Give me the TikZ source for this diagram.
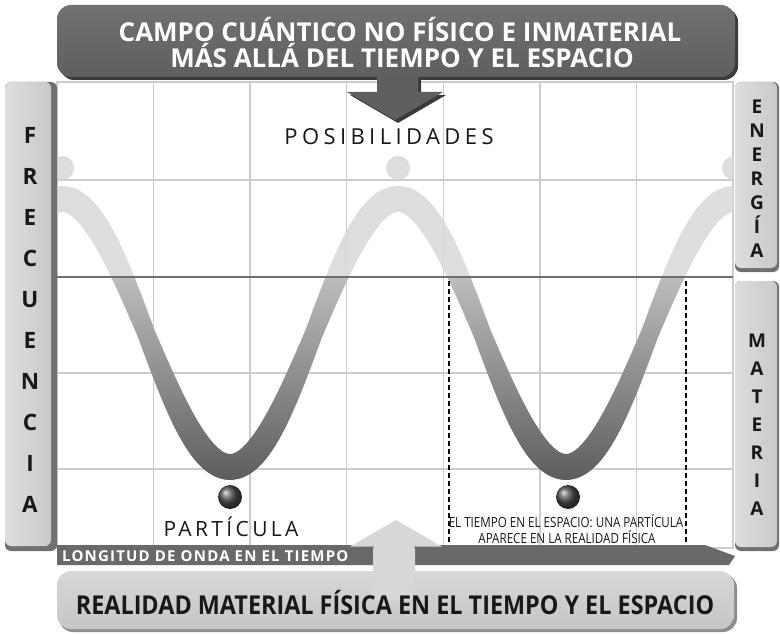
\documentclass[tikz,border=0pt]{standalone}
\usepackage{fontspec}
\setmainfont{Open Sans}
\newfontfamily\spacedfont[LetterSpace=20]{Open Sans}
\newfontfamily\partfont[LetterSpace=16]{Open Sans}
\newfontfamily\condfont[FakeStretch=0.83]{Open Sans}
\newfontfamily\longfont[LetterSpace=8]{Open Sans}
\newfontfamily\realfont[FakeStretch=0.9]{Open Sans}
\definecolor{bannerD}{HTML}{5E5F61}
\definecolor{bannerT}{HTML}{707173}
\definecolor{bannerS}{HTML}{3A3A3C}
\definecolor{gridc}{HTML}{CCCCCC}
\definecolor{axisc}{HTML}{6E6E70}
\definecolor{barL}{HTML}{DEDEDE}
\definecolor{barM}{HTML}{C9C9C9}
\definecolor{barD}{HTML}{707072}
\definecolor{waveL}{HTML}{DADADA}
\definecolor{waveM}{HTML}{BDBDBD}
\definecolor{waveD}{HTML}{5C5C5E}
\definecolor{darkbar}{HTML}{69696B}
\definecolor{boxL}{HTML}{D7D7D7}
\definecolor{boxS}{HTML}{8E8E8E}
\definecolor{txt}{HTML}{1A1718}
\begin{document}
\begin{tikzpicture}[x=1pt,y=-1pt,
  declare function={
    wth(\t)=(\t-62)*1.0714286;
    wy(\t)=333-134*cos(wth(\t));
    wd(\t)=2.506*sin(wth(\t));
    ws(\t)=sqrt(1+wd(\t)*wd(\t));
    ww(\t)=9+4*abs(cos(wth(\t)));
  },
  gridline/.style={gridc,line width=1.3},
  sidebarL/.style={font=\bfseries\fontsize{22.5}{24}\selectfont,text=txt,anchor=base,inner sep=0pt},
  sidebarR/.style={font=\bfseries\fontsize{19}{20}\selectfont,text=txt,anchor=base,inner sep=0pt},
  dashv/.style={black,line width=1.8,dash pattern=on 5pt off 3pt},
  ballst/.style={ball color=waveD!85!black},
]
\useasboundingbox (0,0) rectangle (780,634);
\fill[white] (0,0) rectangle (780,634);

% grid
\foreach \x in {153.6,250.1,346.7,443.3,539.9,636.4}
  \draw[gridline] (\x,82) -- (\x,548);
\foreach \y in {180,373,469}
  \draw[gridline] (57,\y) -- (733,\y);
\draw[gridline] (57,82) rectangle (733,548);

% wave: upper light part
\begin{scope}
  \clip (57,82) rectangle (733,277);
  \fill[waveL,fill opacity=0.9]
    plot[variable=\t,domain=20:775,samples=260] ({\t+ww(\t)*wd(\t)/ws(\t)},{wy(\t)-ww(\t)/ws(\t)})
    -- plot[variable=\t,domain=775:20,samples=260] ({\t-ww(\t)*wd(\t)/ws(\t)},{wy(\t)+ww(\t)/ws(\t)}) -- cycle;
  \fill[waveL,fill opacity=0.9] (62,168) circle (12) (398,168) circle (12) (734,168) circle (12);
\end{scope}
% wave: lower shaded part
\begin{scope}
  \clip (57,277) rectangle (733,548);
  \clip plot[variable=\t,domain=20:775,samples=260] ({\t+ww(\t)*wd(\t)/ws(\t)},{wy(\t)-ww(\t)/ws(\t)})
    -- plot[variable=\t,domain=775:20,samples=260] ({\t-ww(\t)*wd(\t)/ws(\t)},{wy(\t)+ww(\t)/ws(\t)}) -- cycle;
  \shade[top color=waveM,bottom color=waveD] (57,277) rectangle (733,482);
\end{scope}

% centre line
\draw[axisc,line width=2.8] (57,277) -- (733,277);

% dashed bounds
\coordinate (d1t) at (449,281); \coordinate (d1b) at (449,546);
\coordinate (d2t) at (686,281); \coordinate (d2b) at (686,546);
\draw[dashv] (d1t) -- (d1b);
\draw[dashv] (d2t) -- (d2b);

% particles
\shade[ballst] (230,497) circle (12);
\shade[ballst] (568,497) circle (12);

% texts inside grid
\node[font=\spacedfont\fontsize{22}{24}\selectfont,text=txt,anchor=base] (pos) at (389,144) {POSIBILIDADES};
\node[font=\partfont\fontsize{21}{24}\selectfont,text=txt,anchor=base] (part) at (231,536) {PARTÍCULA};
\node[font=\condfont\fontsize{14}{16}\selectfont,text=txt,anchor=base,inner sep=0pt] (tie1) at (566,527) {EL TIEMPO EN EL ESPACIO: UNA PARTÍCULA};
\node[font=\condfont\fontsize{14}{16}\selectfont,text=txt,anchor=base,inner sep=0pt] (tie2) at (567,543) {APARECE EN LA REALIDAD FÍSICA};

% left bar
\fill[barD,rounded corners=6] (5,82) rectangle (57,551);
\shade[left color=barL,right color=barM,rounded corners=6] (5,82) rectangle (51,546);
\foreach \l [count=\i] in {F,R,E,C,U,E,N,C,I,A}
  \node[sidebarL] (fl\i) at (30,{143+41*(\i-1)}) {\l};

% right bars
\fill[barD,rounded corners=6] (735,82) rectangle (779,272);
\shade[left color=barL,right color=barM,rounded corners=6] (735,82) rectangle (777,268);
\foreach \l [count=\i] in {E,N,E,R,G,Í,A}
  \node[sidebarR] (el\i) at (757,{113.5+24*(\i-1)}) {\l};
\fill[barD,rounded corners=6] (735,281) rectangle (779,551);
\shade[left color=barL,right color=barM,rounded corners=6] (735,281) rectangle (777,547);
\foreach \l [count=\i] in {M,A,T,E,R,I,A}
  \node[sidebarR] (ml\i) at (757,{347.5+28*(\i-1)}) {\l};

% bottom box
\fill[boxS,rounded corners=14] (59,574) rectangle (737,632);
\shade[top color=boxL,bottom color=boxL!92!black,rounded corners=14] (57,571) rectangle (734,629);

% longitude bar
\fill[darkbar] (57,545) -- (705,545) -- (735,556) -- (729,565) -- (57,565) -- cycle;
\node[font=\longfont\bfseries\fontsize{15}{16}\selectfont,text=white,anchor=base west,inner sep=0pt] (lon) at (62,561) {LONGITUD DE ONDA EN EL TIEMPO};

% up arrow
\fill[boxL] (350,546.5) -- (396,520) -- (442,546.5) -- cycle;
\fill[boxL,rounded corners=4] (373,600) -- (373,545) -- (415,545) -- (415,600) -- cycle;

\node[font=\realfont\bfseries\fontsize{26}{28}\selectfont,text=txt,anchor=base] (real) at (395,614) {REALIDAD MATERIAL FÍSICA EN EL TIEMPO Y EL ESPACIO};

% top banner
\fill[bannerS,rounded corners=14] (60,8) rectangle (738,80);
\fill[bannerS] (380,76) -- (380,95) -- (350,95) -- (398,123) -- (446,95) -- (421,95) -- (421,76) -- cycle;
\fill[bannerD] (377,70) -- (377,92) -- (347,92) -- (395,120) -- (443,92) -- (418,92) -- (418,70) -- cycle;
\shade[top color=bannerT,bottom color=bannerD,rounded corners=14] (57,5) rectangle (735,77);
\node[font=\bfseries\fontsize{26}{28}\selectfont,text=white,anchor=base] (t1) at (400,42) {CAMPO CUÁNTICO NO FÍSICO E INMATERIAL};
\node[font=\bfseries\fontsize{26}{28}\selectfont,text=white,anchor=base] (t2) at (402,68) {MÁS ALLÁ DEL TIEMPO Y EL ESPACIO};
\end{tikzpicture}
\end{document}
